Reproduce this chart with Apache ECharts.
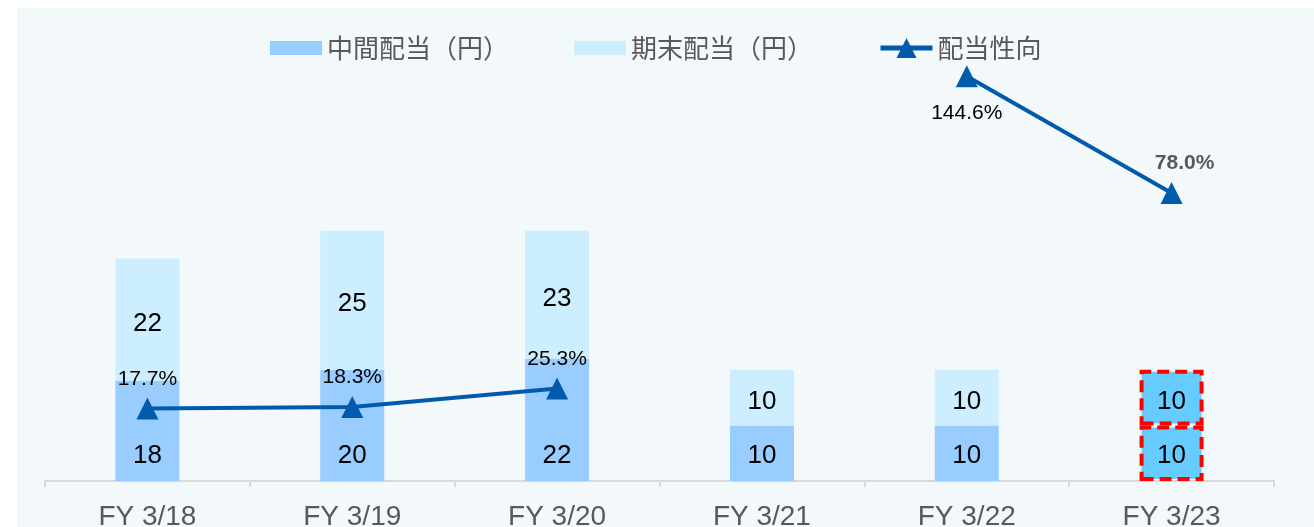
<!DOCTYPE html>
<html>
<head>
<meta charset="utf-8">
<script src="https://cdn.jsdelivr.net/npm/echarts@6/dist/echarts.min.js"></script>
<style>
html,body{margin:0;padding:0;background:#ffffff;}
#c{width:1314px;height:527px;}
</style>
</head>
<body>
<div id="c"></div>
<script>
// ---- data ----
const categories = ['FY 3/18', 'FY 3/19', 'FY 3/20', 'FY 3/21', 'FY 3/22', 'FY 3/23'];
const interimDividend = [18, 20, 22, 10, 10, 10];
const yearEndDividend = [22, 25, 23, 10, 10, 10];
// payout ratio as plotted on the secondary axis (null = no point)
const payoutRatio = [17.7, 18.3, 25.3, null, 144.6, 100.0];
const payoutLabels = ['17.7%', '18.3%', '25.3%', '', '144.6%', '78.0%'];
const seriesNames = ['中間配当（円）', '期末配当（円）', '配当性向'];

// ---- styling ----
const LAT = 'Liberation Sans, Arial, sans-serif';
const CJK = '"Noto Sans CJK JP", "Noto Sans", sans-serif';
const highlightIndex = 5;
const highlightStyle = {color: '#66CCFF', borderColor: '#FF0000', borderWidth: 4, borderType: [12, 6]};

const interimData = interimDividend.map((v, i) => i === highlightIndex ? {value: v, itemStyle: highlightStyle} : v);
const yearEndData = yearEndDividend.map((v, i) => i === highlightIndex ? {value: v, itemStyle: highlightStyle} : v);

const lineLabelStyle = {
  4: {position: 'bottom', distance: 15},
  5: {position: 'top', distance: 8, offset: [13, 0], fontWeight: 'bold', color: '#595959'}
};
const lineData = payoutRatio.map((v, i) => {
  if (v === null) return '-';
  const lbl = Object.assign({show: true, position: 'top', distance: 8, formatter: payoutLabels[i]}, lineLabelStyle[i] || {});
  return {value: v, label: lbl};
});

const legendText = {fontFamily: CJK, fontSize: 26, color: '#595959'};

const chart = echarts.init(document.getElementById('c'), null, {renderer: 'canvas'});
chart.setOption({
  backgroundColor: '#ffffff',
  animation: false,
  graphic: [{
    type: 'rect', z: -10, silent: true,
    shape: {x: 17, y: 8, width: 1314 - 17, height: 527 - 8},
    style: {fill: '#F3F8FB'}
  }],
  legend: [
    {
      top: 35, left: 270, padding: 0,
      itemWidth: 52, itemHeight: 14, itemGap: 65,
      textStyle: legendText,
      data: [
        {name: seriesNames[0], icon: 'rect'},
        {name: seriesNames[1], icon: 'rect'}
      ]
    },
    {
      top: 35, left: 878, padding: 0,
      itemWidth: 52, itemHeight: 25,
      lineStyle: {width: 5},
      textStyle: legendText,
      data: [{name: seriesNames[2]}]
    }
  ],
  grid: {left: 45, right: 40, top: 36, bottom: 46, containLabel: false, outerBoundsMode: 'none'},
  xAxis: {
    type: 'category',
    data: categories,
    boundaryGap: true,
    axisLine: {lineStyle: {color: '#D9D9D9', width: 2}},
    axisTick: {show: true, length: 6, lineStyle: {color: '#D9D9D9', width: 2}},
    axisLabel: {fontFamily: LAT, fontSize: 28, color: '#595959', margin: 22}
  },
  yAxis: [
    {type: 'value', min: 0, max: 80, show: false, splitLine: {show: false}},
    {type: 'value', min: -10, max: 160, show: false, splitLine: {show: false}}
  ],
  series: [
    {
      name: seriesNames[0], type: 'bar', stack: 'div', barWidth: 64,
      itemStyle: {color: '#99CCFF'},
      label: {show: true, position: 'insideBottom', distance: 12, fontFamily: LAT, fontSize: 26, color: '#000000'},
      data: interimData
    },
    {
      name: seriesNames[1], type: 'bar', stack: 'div', barWidth: 64,
      itemStyle: {color: '#CCEEFF'},
      label: {show: true, position: 'inside', offset: [0, 4], fontFamily: LAT, fontSize: 26, color: '#000000'},
      data: yearEndData
    },
    {
      name: seriesNames[2], type: 'line', yAxisIndex: 1,
      symbol: 'triangle', symbolSize: 22,
      connectNulls: false,
      lineStyle: {color: '#005BAC', width: 4},
      itemStyle: {color: '#005BAC'},
      label: {fontFamily: LAT, fontSize: 21, color: '#000000'},
      z: 5,
      data: lineData
    }
  ]
});
</script>
</body>
</html>
